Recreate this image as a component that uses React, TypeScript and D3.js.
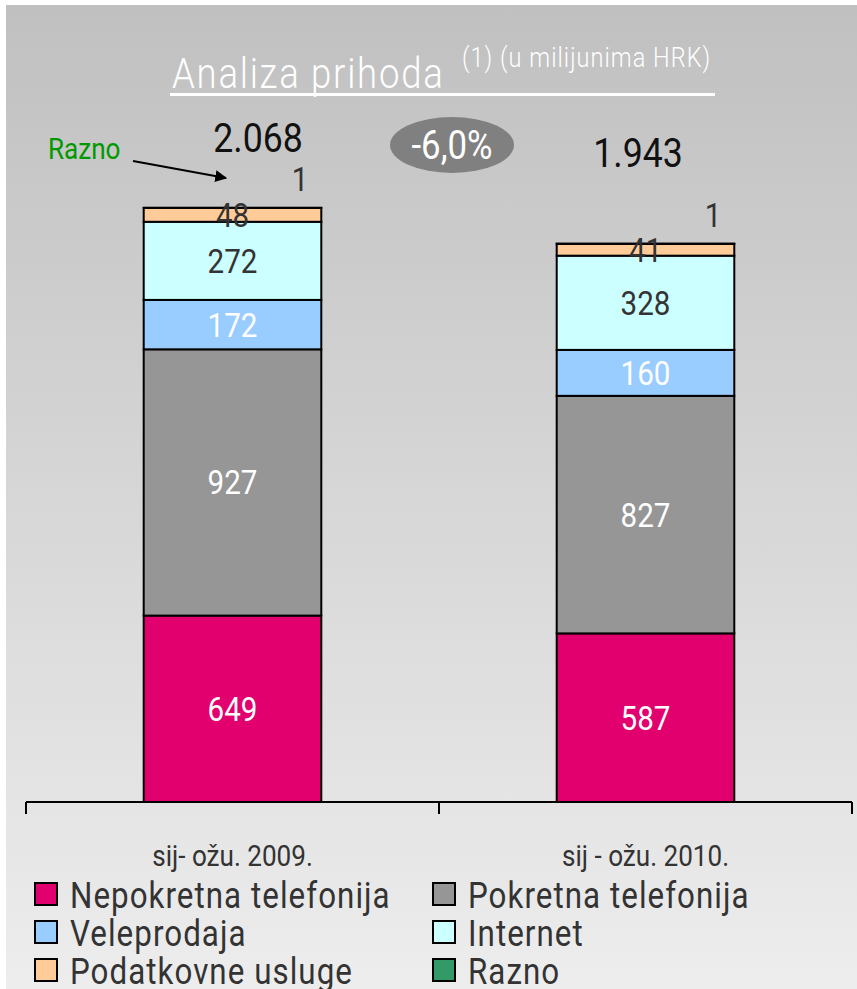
import React, { useEffect, useRef } from 'react';
import * as d3 from 'd3';

const categories = ['sij- ožu. 2009.', 'sij - ožu. 2010.'];
const seriesNames = ['Nepokretna telefonija', 'Pokretna telefonija', 'Veleprodaja', 'Internet', 'Podatkovne usluge', 'Razno'];
const seriesColors = ['#e2006f', '#969696', '#99ccff', '#ccffff', '#ffcc99', '#339966'];
const labelColors = ['#fff', '#fff', '#fff', '#333', '#333', '#333'];
const values2009 = [649, 927, 172, 272, 48, 1];
const values2010 = [587, 827, 160, 328, 41, 1];
const totals = ['2.068', '1.943'];
const changeLabel = '-6,0%';

const W = 857;
const H = 989;
const FONT = 'Roboto, "Liberation Sans", sans-serif';
const SX = 0.87; // the source font is a narrow grotesque

const App = () => {
  const svgRef = useRef<SVGSVGElement>(null);

  useEffect(() => {
    const svg = d3.select(svgRef.current);
    svg.selectAll('*').remove();

    // narrow text helper
    const txt = (x: number, y: number, s: string | number, size: number, fill: string, anchor = 'middle', weight = 400, spacing = 0) => {
      const g = svg.append('g').attr('transform', `translate(${x},${y}) scale(${SX},1)`);
      g.append('text')
        .attr('text-anchor', anchor)
        .style('font-family', FONT)
        .style('font-size', `${size}px`)
        .style('font-weight', weight)
        .style('letter-spacing', `${spacing}px`)
        .style('fill', fill)
        .text(s);
      return g;
    };

    const defs = svg.append('defs');
    const grad = defs.append('linearGradient').attr('id', 'bg').attr('x1', 0).attr('y1', 0).attr('x2', 0).attr('y2', 1);
    grad.append('stop').attr('offset', '0%').attr('stop-color', '#c0c0c0');
    grad.append('stop').attr('offset', '100%').attr('stop-color', '#ededed');

    svg.append('rect').attr('width', W).attr('height', H).attr('fill', '#fff');
    svg.append('rect').attr('x', 6).attr('y', 5).attr('width', W - 6).attr('height', H - 5).attr('fill', 'url(#bg)');

    const x = d3.scaleBand().domain(categories).range([26, 852]).paddingInner(0.57).paddingOuter(0.285);
    const y = d3.scaleLinear().domain([0, 2068]).range([802, 208]);

    const data = [values2009, values2010];
    const stack = d3.stack<number[]>().keys(seriesNames.map((_, i) => String(i)))
      .value((d, k) => d[+k]);
    const stacked = stack(data);

    stacked.forEach((layer, si) => {
      layer.forEach((seg, ci) => {
        const cat = categories[ci];
        svg.append('rect')
          .attr('x', x(cat)!)
          .attr('y', y(seg[1]))
          .attr('width', x.bandwidth())
          .attr('height', y(seg[0]) - y(seg[1]))
          .attr('fill', seriesColors[si])
          .attr('stroke', '#000')
          .attr('stroke-width', 2);
      });
    });

    // segment labels
    stacked.forEach((layer, si) => {
      if (si === 5) return;
      layer.forEach((seg, ci) => {
        const cx = x(categories[ci])! + x.bandwidth() / 2;
        const cy = (y(seg[0]) + y(seg[1])) / 2;
        txt(cx, cy + 12, data[ci][si], 34, labelColors[si]);
      });
    });

    // Razno labels (value 1) above right of bar
    stacked[5].forEach((seg, ci) => {
      const cx = x(categories[ci])! + x.bandwidth() * 0.88;
      txt(cx, y(seg[1]) - 17, data[ci][5], 34, '#333');
    });

    // totals
    [[258, 152], [638, 167]].forEach(([tx, ty], i) => {
      txt(tx, ty, totals[i], 41, '#111');
    });

    // change bubble
    svg.append('ellipse').attr('cx', 452).attr('cy', 145).attr('rx', 62).attr('ry', 28).attr('fill', '#808080');
    txt(452, 159, changeLabel, 40, '#fff');

    // title
    txt(172, 88, 'Analiza prihoda', 42, '#fff', 'start', 300, 2);
    txt(462, 67, '(1) (u milijunima HRK)', 27, '#fff', 'start', 300, 1.2);
    svg.append('rect').attr('x', 170).attr('y', 93).attr('width', 545).attr('height', 3).attr('fill', '#fff');

    // Razno annotation
    txt(48, 159, 'Razno', 30, '#009900', 'start');
    defs.append('marker').attr('id', 'arr').attr('viewBox', '0 0 10 10').attr('refX', 9).attr('refY', 5)
      .attr('markerWidth', 6).attr('markerHeight', 6).attr('orient', 'auto')
      .append('path').attr('d', 'M0,0 L10,5 L0,10 Z').attr('fill', '#000');
    svg.append('line').attr('x1', 133).attr('y1', 161).attr('x2', 226).attr('y2', 178)
      .attr('stroke', '#000').attr('stroke-width', 2).attr('marker-end', 'url(#arr)');

    // axis
    const axisG = svg.append('g');
    axisG.append('line').attr('x1', 26).attr('x2', 852).attr('y1', 802).attr('y2', 802).attr('stroke', '#000').attr('stroke-width', 2);
    const ticks = [26, ...categories.slice(1).map(c => x(c)! - x.step() * x.paddingInner() / 2), 852];
    ticks.forEach(t => {
      axisG.append('line').attr('x1', t).attr('x2', t).attr('y1', 802).attr('y2', 814).attr('stroke', '#000').attr('stroke-width', 2);
    });
    categories.forEach(c => {
      txt(x(c)! + x.bandwidth() / 2, 866, c, 30, '#333');
    });

    // legend
    seriesNames.forEach((name, i) => {
      const col = i % 2;
      const row = Math.floor(i / 2);
      const lx = col === 0 ? 35 : 433;
      const ly = 895 + row * 38;
      svg.append('rect').attr('x', lx).attr('y', ly - 12).attr('width', 22).attr('height', 22)
        .attr('fill', seriesColors[i]).attr('stroke', '#000').attr('stroke-width', 2);
      txt(lx + 35, ly + 13, name, 36, '#333', 'start', 400, 1.2);
    });
  }, []);

  return (
    <div style={{ position: 'absolute', left: 0, top: 0 }}>
      <svg ref={svgRef} width={W} height={H} style={{ display: 'block' }}></svg>
    </div>
  );
};

export default App;
